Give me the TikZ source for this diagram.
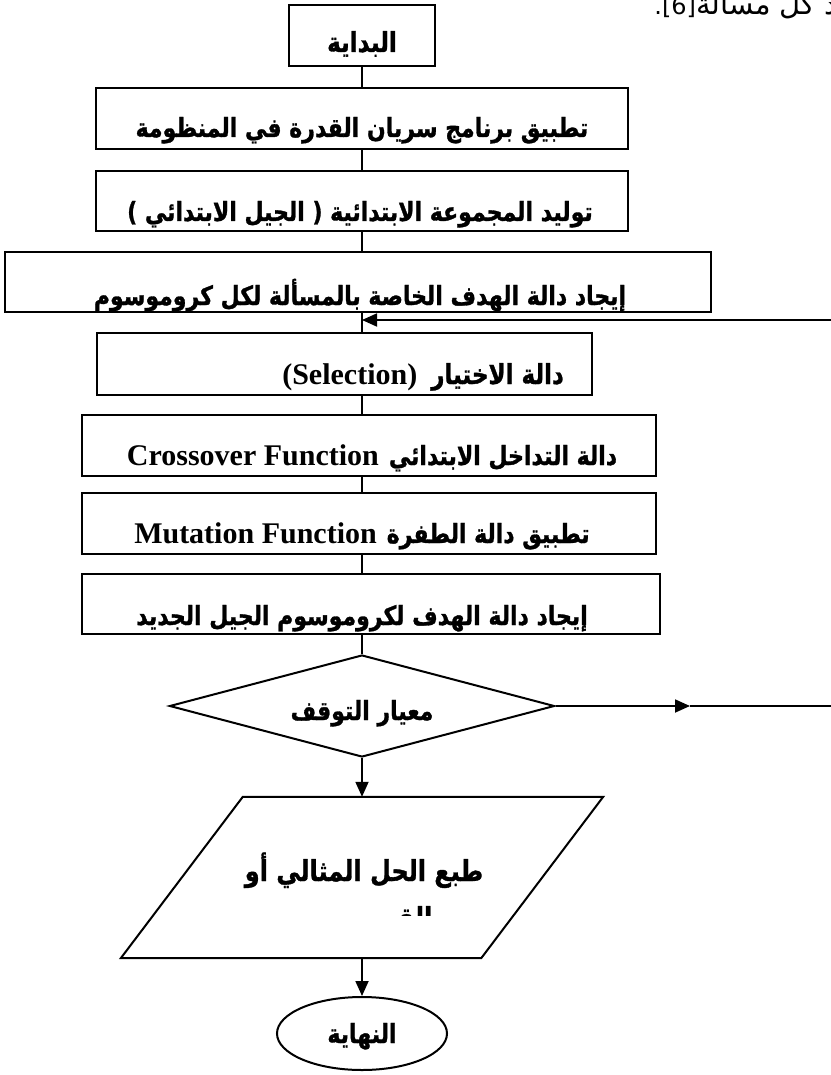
\documentclass[tikz,border=0pt]{standalone}
\usepackage{fontspec}
\usepackage{graphicx}
\setmainfont{Liberation Serif}
\newfontfamily\arfont[Script=Arabic, BoldFeatures={FakeBold=1.2}]{DejaVu Sans}
\newfontfamily\dvfont{DejaVu Sans}
\TeXXeTstate=1
\usetikzlibrary{shapes.geometric,arrows.meta,calc}
\newcommand{\LT}[2]{{\rmfamily\bfseries\fontsize{#1}{#1}\selectfont #2}}
\newcommand{\tall}[1]{\scalebox{1}[1.2]{#1}}
\begin{document}
\begin{tikzpicture}[x=1pt,y=-1pt,
  box/.style={draw, line width=2pt, rectangle, inner sep=0pt},
  flow/.style={line width=1.8pt},
  arr/.style={line width=1.8pt, -{Triangle[length=15pt,width=13pt]}},
  ar/.style={inner sep=0pt, anchor=base, font=\arfont\bfseries\fontsize{#1}{#1}\selectfont}]
\useasboundingbox (0,0) rectangle (830,1075);

% cut-off line of the page text above the chart
\node[inner sep=0pt, anchor=base east, font=\arfont\fontsize{29}{29}\selectfont] (pagetext) at (838,15) {{\dvfont\fontsize{24}{24}\selectfont .[6]}\beginR د كل مسألة\endR};

% boxes
\node[box, minimum width=146pt, minimum height=61pt] (start) at (362,35.5) {};
\node[box, minimum width=532pt, minimum height=61pt] (b2) at (362,118.5) {};
\node[box, minimum width=532pt, minimum height=60pt] (b3) at (362,201) {};
\node[box, minimum width=706pt, minimum height=60pt] (b4) at (358,282) {};
\node[box, minimum width=495pt, minimum height=62pt] (b5) at (344.5,364) {};
\node[box, minimum width=574pt, minimum height=61pt] (b6) at (369,445.5) {};
\node[box, minimum width=574pt, minimum height=61pt] (b7) at (369,523.5) {};
\node[box, minimum width=578pt, minimum height=60pt] (b8) at (371,604) {};
\node[draw, line width=2pt, diamond, inner sep=0pt, minimum width=385pt, minimum height=102pt] (dia) at (362,706) {};
\node[inner sep=0pt, minimum width=360pt, minimum height=161pt] (para) at (362,877.5) {};
\node[draw, line width=2pt, ellipse, inner sep=0pt, minimum width=170pt, minimum height=73pt] (stop) at (362,1033.5) {};

% parallelogram outline
\draw[line width=2pt] ($(para.north west)+(61,0)$) -- ($(para.north east)+(61,0)$)
  -- ($(para.south east)+(-61,0)$) -- ($(para.south west)+(-61,0)$) -- cycle;

% texts (clipped to their boxes)
\node[ar=23] (tstart) at (362,52) {\tall{\beginR البداية\endR}};
\begin{scope}\clip (b2.south west) rectangle (b2.north east);
\node[ar=22] (t2) at (362,137) {\tall{\beginR تطبيق برنامج سريان القدرة في المنظومة\endR}};
\end{scope}
\begin{scope}\clip (b3.south west) rectangle (b3.north east);
\node[ar=22] (t3) at (360,221) {\tall{\beginR توليد المجموعة الابتدائية ( الجيل الابتدائي )\endR}};
\end{scope}
\begin{scope}\clip (b4.south west) rectangle (b4.north east);
\node[ar=22] (t4) at (360,305) {\tall{\beginR إيجاد دالة الهدف الخاصة بالمسألة لكل كروموسوم\endR}};
\end{scope}
\begin{scope}\clip (b5.south west) rectangle (b5.north east);
\node[ar=23, anchor=base east] (t5) at (564,384) {\LT{30}{(Selection)}\hspace{14pt}\tall{\beginR دالة الاختيار\endR}};
\end{scope}
\begin{scope}\clip (b6.south west) rectangle (b6.north east);
\node[ar=22] (t6) at (372,465) {\LT{30}{Crossover Function}\hspace{10pt}\tall{\beginR دالة التداخل الابتدائي\endR}};
\end{scope}
\begin{scope}\clip (b7.south west) rectangle (b7.north east);
\node[ar=22] (t7) at (362,543) {\LT{30}{Mutation Function}\hspace{10pt}\tall{\beginR تطبيق دالة الطفرة\endR}};
\end{scope}
\begin{scope}\clip (b8.south west) rectangle (b8.north east);
\node[ar=22] (t8) at (362,625) {\tall{\beginR إيجاد دالة الهدف لكروموسوم الجيل الجديد\endR}};
\end{scope}
\node[ar=22] (tdia) at (362,720) {\tall{\beginR معيار التوقف\endR}};
\node[ar=24] (tpara) at (364,881) {\tall{\beginR طبع الحل المثالي أو\endR}};
\begin{scope}\clip (200,900) rectangle (520,915);
\node[ar=24] (tpara2) at (368,928) {\tall{\beginR القريب من\endR}};
\end{scope}
\node[ar=22] (tstop) at (362,1043) {\tall{\beginR النهاية\endR}};

% connectors
\draw[flow] (start.south) -- (start.south |- b2.north);
\draw[flow] (b2.south -| start) -- (b3.north -| start);
\draw[flow] (b3.south -| start) -- (b4.north -| start);
\draw[flow] (b4.south -| start) -- (b5.north -| start);
\draw[flow] (b5.south -| start) -- (b6.north -| start);
\draw[flow] (b6.south -| start) -- (b7.north -| start);
\draw[flow] (b7.south -| start) -- (b8.north -| start);
\draw[flow] (b8.south -| start) -- (dia.north);
\coordinate (fbin) at (832,320);
\draw[arr] (fbin) -- (fbin -| start);
\coordinate (mid) at (690,706);
\coordinate (fbout) at (832,706);
\draw[arr] (dia.east) -- (mid);
\draw[flow] (mid) -- (fbout);
\draw[arr] (dia.south) -- (para.north);
\draw[arr] (para.south) -- (stop.north);
\end{tikzpicture}
\end{document}
